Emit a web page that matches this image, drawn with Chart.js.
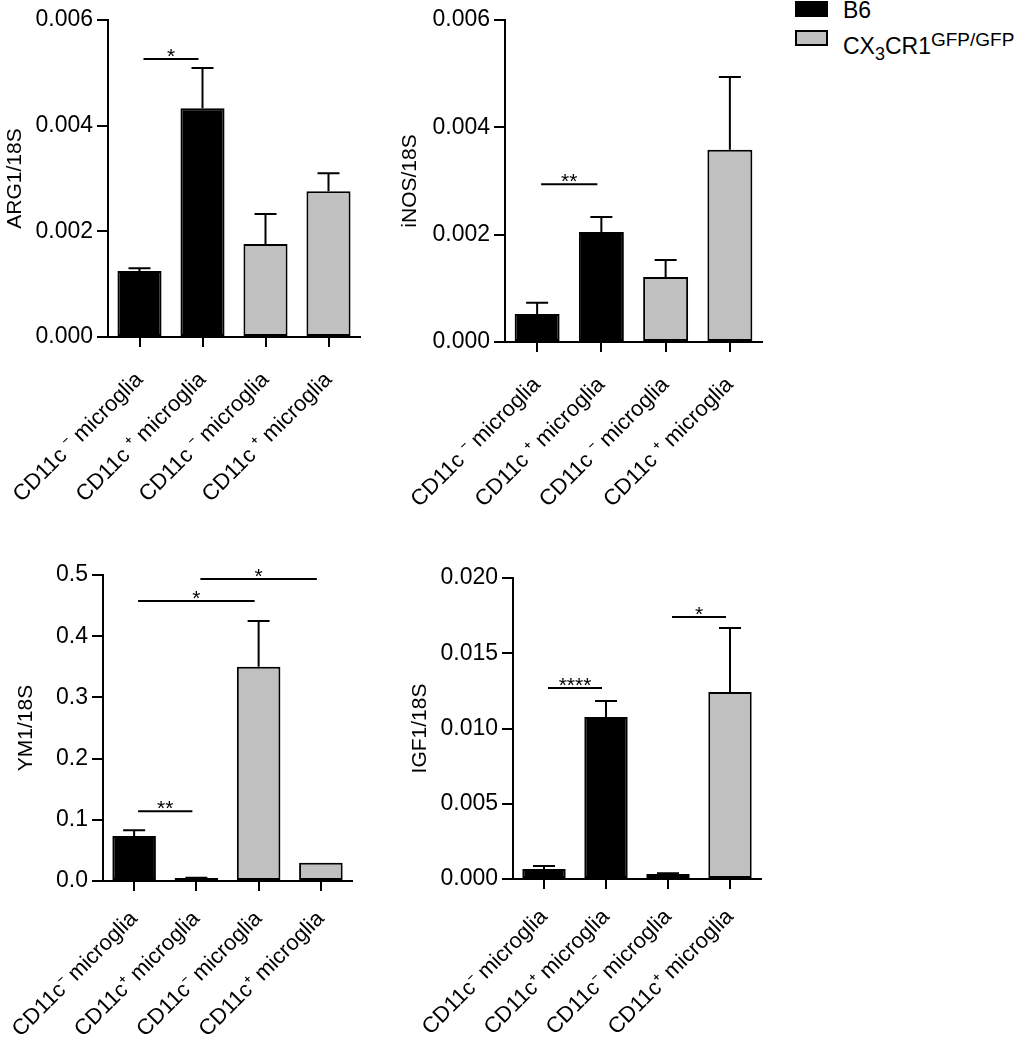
<!DOCTYPE html>
<html>
<head>
<meta charset="utf-8">
<script src="https://cdn.jsdelivr.net/npm/chart.js@4.4.0/dist/chart.umd.min.js"></script>
<style>
  body { margin: 0; background: #fff; width: 1028px; height: 1044px; position: relative; overflow: hidden;
         font-family: "Liberation Sans", Arial, sans-serif; }
  canvas { position: absolute; }
  .key { position: absolute; left: 795px; width: 33px; height: 16px; box-sizing: border-box; }
  .keytext { position: absolute; left: 843px; font-size: 23px; line-height: 23px; color: #000; white-space: nowrap; }
  .keytext sub { font-size: 18px; vertical-align: -6px; }
  .keytext sup { font-size: 19px; vertical-align: 8px; }
</style>
</head>
<body>
<canvas id="arg1" width="370" height="540" style="left:0;top:0"></canvas>
<canvas id="inos" width="400" height="540" style="left:370px;top:0"></canvas>
<canvas id="ym1" width="370" height="504" style="left:0;top:540px"></canvas>
<canvas id="igf1" width="400" height="504" style="left:370px;top:540px"></canvas>

<div class="key" style="top:1px;background:#000"></div>
<div class="keytext" style="top:-1px">B6</div>
<div class="key" style="top:30px;background:#c0c0c0;border:2px solid #000"></div>
<div class="keytext" style="top:28px">CX<sub>3</sub>CR1<sup>GFP/GFP</sup></div>

<script>
// categories, upper row and lower row
const topLabels = ['CD11c \u207B microglia', 'CD11c \u207A microglia', 'CD11c \u207B microglia', 'CD11c \u207A microglia'];
const bottomLabels = ['CD11c\u207B microglia', 'CD11c\u207A microglia', 'CD11c\u207B microglia', 'CD11c\u207A microglia'];
const groupColors = ['#000000', '#000000', '#c0c0c0', '#c0c0c0'];

// mean, SEM, significance [from, to, level, stars]
const arg1Mean = [0.00125, 0.00433, 0.00176, 0.00276];
const arg1Sem  = [0.00005, 0.00076, 0.00057, 0.00034];
const arg1Sig  = [[0, 1, 0.00526, '*']];

const inosMean = [0.00052, 0.00205, 0.00121, 0.00358];
const inosSem  = [0.00021, 0.00028, 0.00032, 0.00136];
const inosSig  = [[0, 1, 0.00294, '**']];

const ym1Mean = [0.0735, 0.005, 0.350, 0.030];
const ym1Sem  = [0.0095, 0.0005, 0.075, 0];
const ym1Sig  = [[0, 1, 0.114, '**'], [0, 2, 0.4575, '*'], [1, 3, 0.4935, '*']];

const igf1Mean = [0.00066, 0.01076, 0.00033, 0.01243];
const igf1Sem  = [0.00020, 0.00107, 0.00005, 0.00425];
const igf1Sig  = [[0, 1, 0.01269, '****'], [2, 3, 0.01741, '*']];

const family = '"Liberation Sans", Arial, sans-serif';
Chart.defaults.font.family = family;
Chart.defaults.color = '#000';

let overlay = function(mean, sem, sig) {
  return {
    id: 'overlay',
    afterDatasetsDraw(chart) {
      let ctx = chart.ctx;
      let bars = chart.getDatasetMeta(0).data;
      let y = chart.scales.y;
      ctx.save();
      ctx.strokeStyle = '#000';
      ctx.fillStyle = '#000';
      ctx.lineWidth = 2;
      bars.forEach((bar, i) => {
        if (!sem[i]) return;
        let top = y.getPixelForValue(mean[i] + sem[i]);
        ctx.beginPath();
        ctx.moveTo(bar.x, bar.y);
        ctx.lineTo(bar.x, top);
        ctx.moveTo(bar.x - 11, top);
        ctx.lineTo(bar.x + 11, top);
        ctx.stroke();
      });
      ctx.font = '21px ' + family;
      ctx.textAlign = 'center';
      ctx.textBaseline = 'alphabetic';
      sig.forEach(s => {
        let x0 = bars[s[0]].x + 4;
        let x1 = bars[s[1]].x - 4;
        let py = y.getPixelForValue(s[2]);
        ctx.beginPath();
        ctx.moveTo(x0, py);
        ctx.lineTo(x1, py);
        ctx.stroke();
        ctx.fillText(s[3], (x0 + x1) / 2, py + 4);
      });
      ctx.restore();
    }
  };
};

let makeChart = function(id, labels, mean, sem, sig, p) {
  return new Chart(document.getElementById(id), {
    type: 'bar',
    data: {
      labels: labels,
      datasets: [{
        data: mean,
        backgroundColor: groupColors,
        borderColor: '#000',
        borderWidth: 2,
        borderSkipped: false,
        categoryPercentage: 1,
        barPercentage: 0.7
      }]
    },
    options: {
      responsive: false,
      animation: false,
      devicePixelRatio: 1,
      layout: { padding: { left: 0, top: p.top, right: p.right, bottom: 0 } },
      plugins: { legend: { display: false }, tooltip: { enabled: false } },
      scales: {
        x: {
          afterFit(scale) {
            scale.height = p.xh;
            scale.paddingLeft = 0;
            scale.paddingRight = 0;
          },
          border: { color: '#000', width: 2 },
          grid: { offset: false, drawOnChartArea: false, color: '#000', lineWidth: 2, tickLength: 10 },
          ticks: { color: '#000', font: { size: 22 }, minRotation: 45, maxRotation: 45, autoSkip: false, padding: p.lp }
        },
        y: {
          min: 0,
          max: p.max,
          afterFit(scale) { scale.width = p.yw; },
          border: { color: '#000', width: 2 },
          grid: { drawOnChartArea: false, color: '#000', lineWidth: 2, tickLength: 11 },
          ticks: { color: '#000', font: { size: 23 }, padding: 4, stepSize: p.step,
                   callback: v => v.toFixed(p.dec) },
          title: { display: true, text: p.title, color: '#000', font: { size: 21 },
                   padding: { top: p.tp, bottom: 0 } }
        }
      }
    },
    plugins: [overlay(mean, sem, sig)]
  });
};

makeChart('arg1', topLabels, arg1Mean, arg1Sem, arg1Sig,
  { title: 'ARG1/18S', max: 0.006, step: 0.002, dec: 3, top: 20, right: 10, xh: 203, yw: 108, tp: 3, lp: 20 });
makeChart('inos', topLabels, inosMean, inosSem, inosSig,
  { title: 'iNOS/18S', max: 0.006, step: 0.002, dec: 3, top: 20, right: 8, xh: 198, yw: 135, tp: 28, lp: 20 });
makeChart('ym1', bottomLabels, ym1Mean, ym1Sem, ym1Sig,
  { title: 'YM1/18S', max: 0.5, step: 0.1, dec: 1, top: 35, right: 18, xh: 163, yw: 103, tp: 14, lp: 15 });
makeChart('igf1', bottomLabels, igf1Mean, igf1Sem, igf1Sig,
  { title: 'IGF1/18S', max: 0.02, step: 0.005, dec: 3, top: 38, right: 9, xh: 165, yw: 143, tp: 38, lp: 15 });
</script>
</body>
</html>
